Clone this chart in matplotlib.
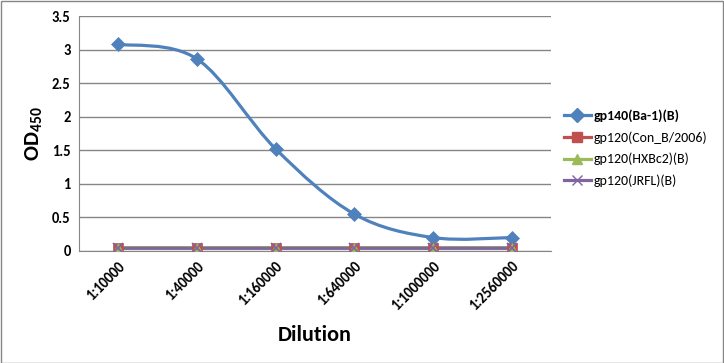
import numpy as np
import matplotlib
matplotlib.use('Agg')
import matplotlib.pyplot as plt
from matplotlib.path import Path
from matplotlib.patches import PathPatch, Rectangle

plt.rcParams['font.family'] = ['Carlito', 'Lato', 'DejaVu Sans']
plt.rcParams['mathtext.fontset'] = 'custom'
plt.rcParams['mathtext.rm'] = 'Carlito'
plt.rcParams['mathtext.bf'] = 'Carlito:bold'

## Data
dilutions = ['1:10000', '1:40000', '1:160000', '1:640000', '1:1000000', '1:2560000']
gp140_ba1 = [3.08, 2.86, 1.52, 0.55, 0.20, 0.20]
gp120_conb = [0.05, 0.05, 0.05, 0.05, 0.05, 0.05]
gp120_hxbc2 = [0.05, 0.05, 0.05, 0.05, 0.05, 0.05]
gp120_jrfl = [0.04, 0.04, 0.04, 0.04, 0.04, 0.04]
labels = ['gp140(Ba-1)(B)', 'gp120(Con_B/2006)', 'gp120(HXBc2)(B)', 'gp120(JRFL)(B)']
colors = ['#4F81BD', '#C0504D', '#9BBB59', '#8064A2']
markers = ['D', 's', '^', 'x']


def smooth_path(xs, ys):
    # excel-ish smoothed line: bezier segments through every point
    pts = np.column_stack([xs, ys]).astype(float)
    n = len(pts)
    verts = [pts[0]]
    codes = [Path.MOVETO]
    for i in range(n - 1):
        p0 = pts[max(i - 1, 0)]
        p1 = pts[i]
        p2 = pts[i + 1]
        p3 = pts[min(i + 2, n - 1)]
        c1 = p1 + (p2 - p0) / 6.0
        c2 = p2 - (p3 - p1) / 6.0
        verts += [c1, c2, p2]
        codes += [Path.CURVE4] * 3
    return Path(verts, codes)


fig = plt.figure(figsize=(7.24, 3.63), dpi=100)
fig.patches.append(Rectangle((0.001, 0.001), 0.997, 0.995, transform=fig.transFigure,
                             fill=False, edgecolor='#868686', linewidth=1))
ax = fig.add_axes([79 / 724, 1 - 251 / 363, 472 / 724, 235 / 363])

x = np.arange(len(dilutions)) + 0.5
series = [gp140_ba1, gp120_conb, gp120_hxbc2, gp120_jrfl]
for vals, lab, c, m in zip(series, labels, colors, markers):
    ax.add_patch(PathPatch(smooth_path(x, vals), facecolor='none', edgecolor=c,
                           linewidth=2.3, zorder=3))
    ax.plot(x, vals, color=c, marker=m, markersize=7,
            markeredgewidth=1.2 if m == 'x' else 0.5, markeredgecolor=c,
            linestyle='none', zorder=4)
    ax.plot([], [], color=c, linewidth=2.3, marker=m, markersize=7, label=lab)

ax.set_xlim(0, len(dilutions))
ax.set_ylim(0, 3.5)
ax.set_yticks(np.arange(0, 3.51, 0.5))
ax.set_yticklabels(['0', '0.5', '1', '1.5', '2', '2.5', '3', '3.5'],
                   fontsize=10.5, fontweight='bold')
ax.set_xticks(x)
ax.set_xticklabels(dilutions, rotation=45, ha='right', rotation_mode='anchor',
                   fontsize=10.5, fontweight='bold')
ax.tick_params(axis='both', length=0, pad=6)
ax.grid(axis='y', color='#868686', linewidth=1)
for s in ['top', 'right']:
    ax.spines[s].set_visible(False)
ax.spines['left'].set_color('#868686')
ax.spines['bottom'].set_color('#868686')

ax.set_xlabel('Dilution', fontsize=16, fontweight='bold', labelpad=8)
ax.set_ylabel('$\\mathbf{OD_{450}}$', fontsize=16, labelpad=5)

leg = fig.legend(loc='upper left', bbox_to_anchor=(551 / 724, 1 - 97 / 363),
                 frameon=False, fontsize=10, handlelength=2.0, labelspacing=0.65,
                 handletextpad=0.15)
leg.get_texts()[0].set_fontweight('bold')

fig.savefig('out.png', dpi=100)
